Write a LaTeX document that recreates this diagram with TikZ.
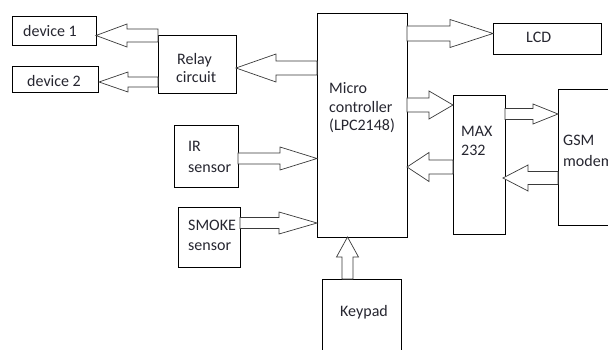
\documentclass[tikz,border=0pt]{standalone}
\usepackage{fontspec}
\setmainfont{Carlito}
\usetikzlibrary{calc}
\definecolor{ink}{HTML}{262630}
\definecolor{arrowline}{HTML}{3A3A3A}

% Hollow block arrow: #1 start point, #2 tip point, #3 head length,
% #4 half width of the shaft, #5 half width of the head
\newcommand\blockarrow[5]{%
  \path ($(#2)!#3!(#1)$) coordinate (ba-h);
  \draw[barrow] ($(#1)!#4!90:(#2)$) -- ($(ba-h)!#4!90:(#2)$)
    -- ($(ba-h)!#5!90:(#2)$) -- (#2) -- ($(ba-h)!#5!-90:(#2)$)
    -- ($(ba-h)!#4!-90:(#2)$) -- ($(#1)!#4!-90:(#2)$) -- cycle;
}

\begin{document}
\begin{tikzpicture}[x=1pt,y=-1pt,
  box/.style={draw=black, line width=0.8pt, inner sep=0pt, outer sep=0pt, fill=white},
  lbl/.style={anchor=base west, inner sep=0pt, text=ink, font=\fontsize{16}{19}\selectfont},
  barrow/.style={draw=arrowline, line width=0.7pt, fill=white, line join=miter}]
\useasboundingbox (0,0) rectangle (608,350);
\clip (0,0) rectangle (608,350);

% blocks
\node[box, minimum width=84pt, minimum height=29pt]  (dev1)   at (54,30.5)  {};
\node[box, minimum width=86pt, minimum height=26pt]  (dev2)   at (55,79)    {};
\node[box, minimum width=78pt, minimum height=58pt]  (relay)  at (197,64)   {};
\node[box, minimum width=90pt, minimum height=224pt] (mc)     at (362,125)  {};
\node[box, minimum width=108pt, minimum height=31pt] (lcd)    at (547,38.5) {};
\node[box, minimum width=52pt, minimum height=139pt] (max)    at (479,164.5){};
\node[box, minimum width=100pt, minimum height=136pt](gsm)    at (608,157)  {};
\node[box, minimum width=64pt, minimum height=62pt]  (ir)     at (206,156)  {};
\node[box, minimum width=62pt, minimum height=60pt]  (smoke)  at (209,237)  {};
\node[box, minimum width=79pt, minimum height=102pt] (keypad) at (361.5,330){};

% labels
\node[lbl] (t-dev1)   at (23,37)   {device 1};
\node[lbl] (t-dev2)   at (27,87)   {device 2};
\node[lbl] (t-relay1) at (177,65)  {Relay};
\node[lbl] (t-relay2) at (176,83)  {circuit};
\node[lbl] (t-mc1)    at (329,94)  {Micro};
\node[lbl] (t-mc2)    at (329,113) {controller};
\node[lbl] (t-mc3)    at (329,131) {(LPC2148)};
\node[lbl] (t-lcd)    at (526,43)  {LCD};
\node[lbl] (t-max1)   at (461,137) {MAX};
\node[lbl] (t-max2)   at (461,156) {232};
\node[lbl] (t-gsm1)   at (563,146) {GSM};
\node[lbl] (t-gsm2)   at (563,167) {modem};
\node[lbl] (t-ir1)    at (188,152) {IR};
\node[lbl] (t-ir2)    at (188,172) {sensor};
\node[lbl] (t-sm1)    at (188,230) {SMOKE};
\node[lbl] (t-sm2)    at (188,250) {sensor};
\node[lbl] (t-key)    at (340,316) {Keypad};

% arrow end points on the block edges
\coordinate (a1s) at (relay.west |- 0,35.5);  \coordinate (a1t) at (dev1.east |- 0,35.5);
\coordinate (a2s) at (relay.west |- 0,82);    \coordinate (a2t) at (99,82);
\coordinate (a3s) at (mc.west |- 0,68);       \coordinate (a3t) at (relay.east |- 0,68);
\coordinate (a4s) at (mc.east |- 0,33.5);     \coordinate (a4t) at (lcd.west |- 0,33.5);
\coordinate (a5s) at (mc.east |- 0,105);      \coordinate (a5t) at (max.west |- 0,105);
\coordinate (a6s) at (max.east |- 0,114);     \coordinate (a6t) at (gsm.west |- 0,114);
\coordinate (a7s) at (max.west |- 0,167);     \coordinate (a7t) at (mc.east |- 0,167);
\coordinate (a8s) at (gsm.west |- 0,178);     \coordinate (a8t) at (503,178);
\coordinate (a9s) at (ir.east |- 0,158.5);    \coordinate (a9t) at (mc.west |- 0,158.5);
\coordinate (a10s) at (smoke.east |- 0,223);  \coordinate (a10t) at (mc.west |- 0,223);
\coordinate (a11s) at (347.5,0 |- keypad.north); \coordinate (a11t) at (347.5,0 |- mc.south);

% connectors
\blockarrow{a1s}{a1t}{31pt}{6.5pt}{11.5pt}
\blockarrow{a2s}{a2t}{29pt}{5pt}{10pt}
\blockarrow{a3s}{a3t}{40pt}{7pt}{14pt}
\blockarrow{a4s}{a4t}{43pt}{7.5pt}{14pt}
\blockarrow{a5s}{a5t}{24pt}{7pt}{14pt}
\blockarrow{a6s}{a6t}{25pt}{5.5pt}{10pt}
\blockarrow{a7s}{a7t}{22pt}{7pt}{14.5pt}
\blockarrow{a8s}{a8t}{25pt}{6.5pt}{13pt}
\blockarrow{a9s}{a9t}{37pt}{5.5pt}{11.5pt}
\blockarrow{a10s}{a10t}{38pt}{5.5pt}{11pt}
\blockarrow{a11s}{a11t}{20pt}{5.5pt}{11pt}
\end{tikzpicture}
\end{document}
